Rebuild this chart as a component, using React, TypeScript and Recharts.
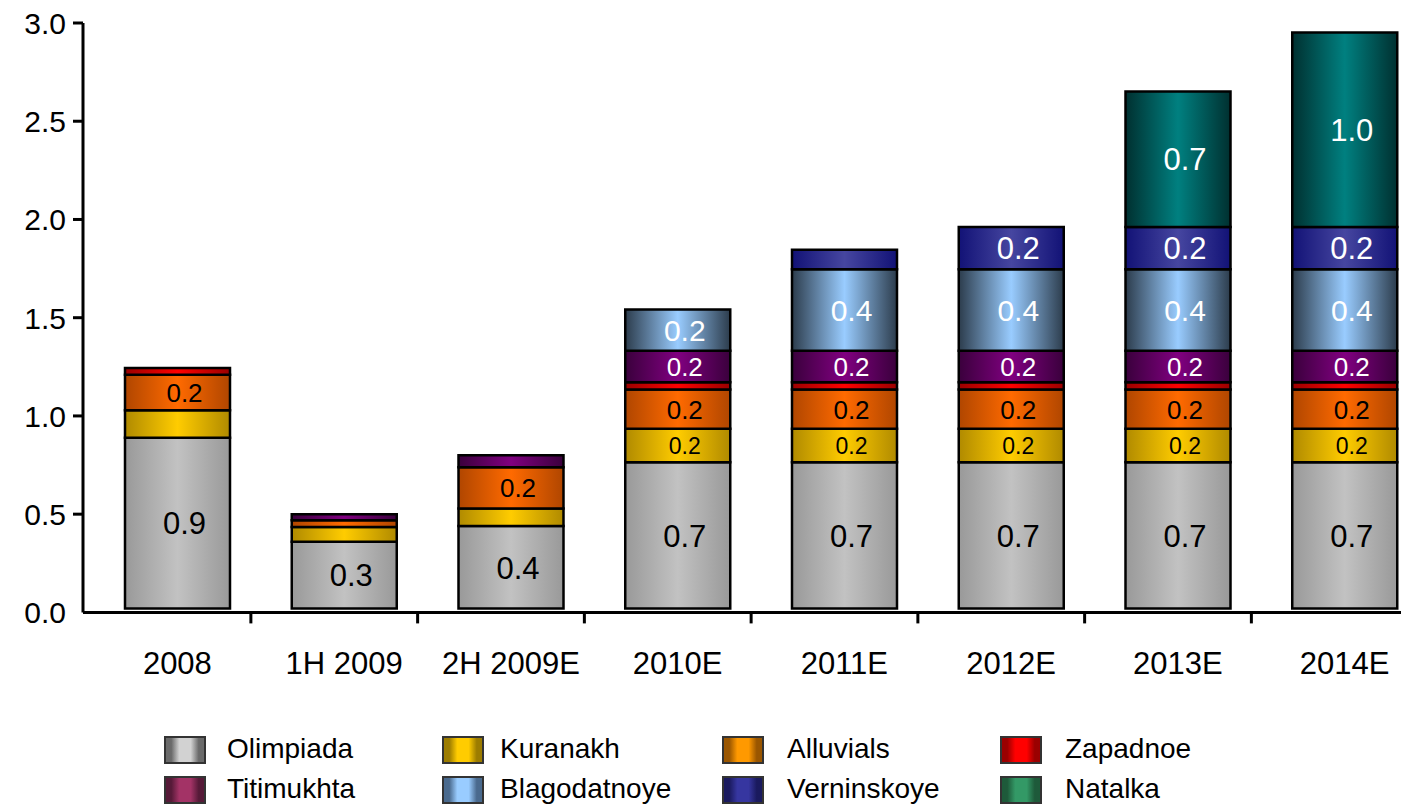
import React from 'react';
import { BarChart, Bar, XAxis, YAxis, LabelList, Rectangle } from 'recharts';

const categories = ['2008', '1H 2009', '2H 2009E', '2010E', '2011E', '2012E', '2013E', '2014E'];

const olimpiada = [0.87, 0.34, 0.42, 0.745, 0.745, 0.745, 0.745, 0.745];
const kuranakh = [0.14, 0.075, 0.09, 0.17, 0.17, 0.17, 0.17, 0.17];
const alluvials = [0.18, 0.035, 0.21, 0.2, 0.2, 0.2, 0.2, 0.2];
const zapadnoe = [0.035, 0, 0, 0.037, 0.037, 0.037, 0.037, 0.037];
const titimukhta = [0, 0.03, 0.06, 0.16, 0.16, 0.16, 0.16, 0.16];
const blagodatnoye = [0, 0, 0, 0.21, 0.415, 0.415, 0.415, 0.415];
const verninskoye = [0, 0, 0, 0, 0.1, 0.215, 0.215, 0.215];
const natalka = [0, 0, 0, 0, 0, 0, 0.69, 0.99];

const yTicks = [0, 0.5, 1, 1.5, 2, 2.5, 3];

const seriesNames = ['Olimpiada', 'Kuranakh', 'Alluvials', 'Zapadnoe', 'Titimukhta', 'Blagodatnoye', 'Verninskoye', 'Natalka'];
const seriesValues = [olimpiada, kuranakh, alluvials, zapadnoe, titimukhta, blagodatnoye, verninskoye, natalka];

// bar gradient: [edge, centre]
const barColors = [
    ['#999999', '#c2c2c2'],
    ['#b08a00', '#ffcc00'],
    ['#b04600', '#ff6a00'],
    ['#9a0000', '#ff0000'],
    ['#3a003c', '#800080'],
    ['#2c3c4c', '#99ccff'],
    ['#121276', '#4646a0'],
    ['#003030', '#008080'],
];
// legend swatch: [dark, light]
const legendColors = [
    ['#6a6a6a', '#d2d2d2'],
    ['#9c7c00', '#ffcc00'],
    ['#9a5600', '#ff9900'],
    ['#9a0000', '#ff0000'],
    ['#561a38', '#a33366'],
    ['#4a6a8e', '#99ccff'],
    ['#1a1a5e', '#3636a0'],
    ['#1e5a3a', '#339966'],
];
const labelColors = ['#000', '#000', '#000', '#000', '#fff', '#fff', '#fff', '#fff'];
const labelSizes = [31, 23, 26, 26, 26, 30, 31, 31];

const data = categories.map((name, i) => {
    const row: Record<string, any> = { name };
    seriesNames.forEach((s, j) => {
        row[s] = seriesValues[j][i];
    });
    return row;
});

const FONT = '"Liberation Sans", Arial, sans-serif';
// the original draws the bar stack a few px above the axis line
const LIFT = 3.8;

const makeLabel = (color: string, size: number) => (props: any) => {
    const { x, y, width, height, value } = props;
    if (!value || value < 0.15) return null;
    return (
        <text
            x={Number(x) + Number(width) / 2 + 7}
            y={Number(y) + Number(height) / 2 - LIFT}
            dy="0.36em"
            textAnchor="middle"
            fill={color}
            fontSize={size}
            fontFamily={FONT}
        >
            {(Math.round(Number(value) * 10 - 0.01) / 10).toFixed(1)}
        </text>
    );
};

const LiftedBar = (props: any) => <Rectangle {...props} y={props.y - LIFT} />;

const XTick = (props: any) => {
    const { x, y, payload } = props;
    return (
        <g>
            <line x1={x + 73.5} x2={x + 73.5} y1={y} y2={y + 11} stroke="#000" strokeWidth={3} />
            <text x={x} y={y + 62} textAnchor="middle" fill="#000" fontSize={31} fontFamily={FONT}>
                {payload.value}
            </text>
        </g>
    );
};

const YTick = (props: any) => {
    const { y, payload } = props;
    return (
        <g>
            {payload.value > 0 && <line x1={73} x2={83} y1={y} y2={y} stroke="#000" strokeWidth={3} />}
            <text x={66} y={y} dy="0.36em" textAnchor="end" fill="#000" fontSize={30} fontFamily={FONT}>
                {Number(payload.value).toFixed(1)}
            </text>
        </g>
    );
};

export default function App() {
    return (
        <div style={{ position: 'absolute', left: 0, top: 0, width: 1401, height: 806, overflow: 'hidden', background: '#fff' }}>
            <BarChart
                width={1430}
                height={806}
                data={data}
                margin={{ top: 23, right: 2, left: 0, bottom: 113.6 }}
                barSize={105}
            >
                <defs>
                    {seriesNames.map((s, i) => (
                        <linearGradient key={s} id={`grad-${i}`} x1="0" y1="0" x2="1" y2="0">
                            <stop offset="0%" stopColor={barColors[i][0]} />
                            <stop offset="50%" stopColor={barColors[i][1]} />
                            <stop offset="100%" stopColor={barColors[i][0]} />
                        </linearGradient>
                    ))}
                </defs>
                <XAxis
                    dataKey="name"
                    height={80}
                    padding={{ left: 11, right: 0 }}
                    axisLine={{ stroke: '#000', strokeWidth: 3 }}
                    tickLine={false}
                    tickSize={0}
                    tickMargin={0}
                    tick={<XTick />}
                    interval={0}
                />
                <YAxis
                    width={83}
                    domain={[0, 3]}
                    ticks={yTicks}
                    axisLine={{ stroke: '#000', strokeWidth: 3 }}
                    tickLine={false}
                    tickSize={0}
                    tick={<YTick />}
                />
                {seriesNames.map((s, i) => (
                    <Bar
                        key={s}
                        dataKey={s}
                        stackId="a"
                        fill={`url(#grad-${i})`}
                        stroke="#000"
                        strokeWidth={2.5}
                        shape={LiftedBar}
                        isAnimationActive={false}
                    >
                        <LabelList dataKey={s} content={makeLabel(labelColors[i], labelSizes[i])} />
                    </Bar>
                ))}
            </BarChart>

            {seriesNames.map((s, i) => {
                const col = i % 4;
                const row = Math.floor(i / 4);
                const swatchX = [164, 442, 722, 1000][col];
                const textX = [227, 500, 787, 1065][col];
                const top = 736 + row * 40;
                const [dark, light] = legendColors[i];
                return (
                    <React.Fragment key={s}>
                        <div
                            style={{
                                position: 'absolute',
                                left: swatchX,
                                top,
                                width: 38,
                                height: 24,
                                border: '2px solid #333',
                                background: `linear-gradient(90deg, ${dark} 0%, ${dark} 14%, ${light} 35%, ${light} 65%, ${dark} 86%, ${dark} 100%)`,
                            }}
                        />
                        <div
                            style={{
                                position: 'absolute',
                                left: textX,
                                top: top - 1,
                                fontSize: 28,
                                lineHeight: '28px',
                                fontFamily: FONT,
                                color: '#000',
                                whiteSpace: 'nowrap',
                            }}
                        >
                            {s}
                        </div>
                    </React.Fragment>
                );
            })}
        </div>
    );
}
